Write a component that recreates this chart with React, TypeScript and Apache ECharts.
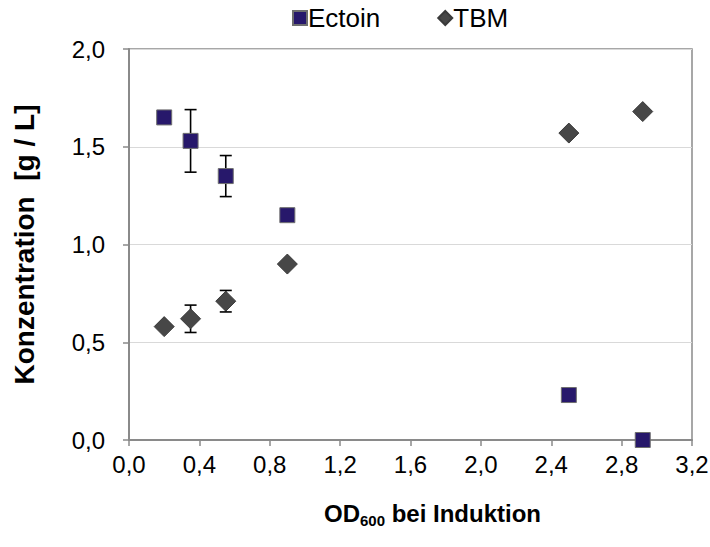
import React, { useEffect, useRef } from "react";
import * as echarts from "echarts";

const odValues = [0.2, 0.35, 0.55, 0.9, 2.5, 2.92];
const ectoinValues = [1.65, 1.53, 1.35, 1.15, 0.23, 0.0];
const ectoinErrors = [0, 0.16, 0.105, 0, 0, 0];
const tbmValues = [0.58, 0.62, 0.71, 0.9, 1.57, 1.68];
const tbmErrors = [0, 0.07, 0.055, 0, 0, 0];
const seriesNames = ["Ectoin", "TBM"];

const FONT = "'Liberation Sans', Arial, sans-serif";
const fmt = (v: number) => v.toFixed(1).replace(".", ",");

function errData(ys: number[], es: number[]) {
  return odValues
    .map((x, i) => ({ x, lo: ys[i] - es[i], hi: ys[i] + es[i], e: es[i] }))
    .filter((d) => d.e > 0)
    .map((d) => [d.x, d.lo, d.hi]);
}

const renderErr = (params: any, api: any) => {
  const x = api.value(0);
  const top = api.coord([x, api.value(2)]);
  const bot = api.coord([x, api.value(1)]);
  const w = 6;
  const st = { stroke: "#000", lineWidth: 1.6 };
  return {
    type: "group",
    children: [
      { type: "line", shape: { x1: top[0], y1: top[1], x2: bot[0], y2: bot[1] }, style: st },
      { type: "line", shape: { x1: top[0] - w, y1: top[1], x2: top[0] + w, y2: top[1] }, style: st },
      { type: "line", shape: { x1: bot[0] - w, y1: bot[1], x2: bot[0] + w, y2: bot[1] }, style: st },
    ],
  };
};

export default function App() {
  const ref = useRef<HTMLDivElement>(null);
  useEffect(() => {
    document.body.style.margin = "0";
    const chart = echarts.init(ref.current!, null, { renderer: "svg" });
    chart.setOption({
      animation: false,
      backgroundColor: "#fff",
      textStyle: { fontFamily: FONT },
      legend: {
        data: seriesNames,
        left: 287,
        top: 0,
        itemWidth: 14,
        itemHeight: 14,
        itemGap: 57,
        textStyle: { fontFamily: FONT, fontSize: 26, color: "#000", padding: [0, 0, 0, -4] },
      },
      grid: {
        left: 129,
        top: 49,
        right: 18,
        bottom: 107,
        containLabel: false,
        outerBoundsMode: "none",
        show: true,
        borderColor: "#8a8a8a",
        borderWidth: 1.5,
        backgroundColor: "transparent",
      },
      xAxis: {
        type: "value",
        min: 0,
        max: 3.2,
        interval: 0.4,
        name: "{b|OD}{s|600}{b| bei Induktion}",
        nameLocation: "middle",
        nameGap: 58,
        nameTextStyle: {
          padding: [0, 0, 0, 44],
          rich: {
            b: { fontFamily: FONT, fontSize: 24, fontWeight: "bold", color: "#000", lineHeight: 30 },
            s: { fontFamily: FONT, fontSize: 15, fontWeight: "bold", color: "#000", lineHeight: 16, verticalAlign: "bottom" },
          },
        },
        axisLine: { show: true, lineStyle: { color: "#8a8a8a", width: 2 } },
        axisTick: { show: true, inside: false, length: 6, lineStyle: { color: "#8a8a8a", width: 1.5 } },
        axisLabel: { formatter: fmt, fontFamily: FONT, fontSize: 24, color: "#000", margin: 12 },
        splitLine: { show: false },
      },
      yAxis: {
        type: "value",
        min: 0,
        max: 2,
        interval: 0.5,
        name: "Konzentration  [g / L]",
        nameLocation: "middle",
        nameRotate: 90,
        nameGap: 91,
        nameTextStyle: { fontFamily: FONT, fontSize: 28, fontWeight: "bold", color: "#000" },
        axisLine: { show: true, lineStyle: { color: "#8a8a8a", width: 2 } },
        axisTick: { show: true, inside: false, length: 6, lineStyle: { color: "#8a8a8a", width: 1.5 } },
        axisLabel: { formatter: fmt, fontFamily: FONT, fontSize: 24, color: "#000", margin: 24 },
        splitLine: { show: true, lineStyle: { color: "#d9d9d9", width: 1 } },
      },
      series: [
        {
          name: "Ectoin-err",
          type: "custom",
          renderItem: renderErr,
          data: errData(ectoinValues, ectoinErrors),
          z: 1,
          silent: true,
        },
        {
          name: "TBM-err",
          type: "custom",
          renderItem: renderErr,
          data: errData(tbmValues, tbmErrors),
          z: 1,
          silent: true,
        },
        {
          name: "Ectoin",
          type: "scatter",
          symbol: "rect",
          symbolSize: 15,
          z: 3,
          itemStyle: { color: "#27186b", borderColor: "#6e6e6e", borderWidth: 1, opacity: 1 },
          data: odValues.map((x, i) => [x, ectoinValues[i]]),
        },
        {
          name: "TBM",
          type: "scatter",
          symbol: "diamond",
          symbolSize: 20,
          z: 3,
          itemStyle: { color: "#474747", borderColor: "#3a3a3a", borderWidth: 1, opacity: 1 },
          data: odValues.map((x, i) => [x, tbmValues[i]]),
        },
      ],
    });
    return () => chart.dispose();
  }, []);
  return <div ref={ref} style={{ width: 710, height: 547 }} />;
}
